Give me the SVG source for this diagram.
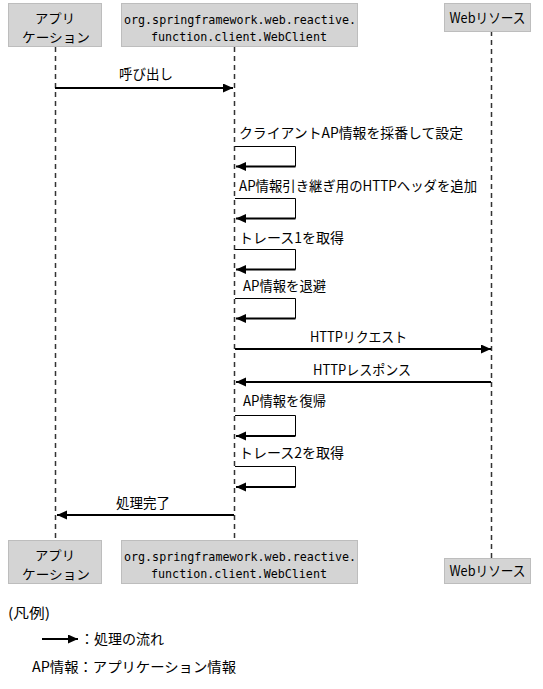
<svg xmlns="http://www.w3.org/2000/svg" width="543" height="689" viewBox="0 0 543 689">
<style>
  .box { fill: #d4d4d4; stroke: #bdbdbd; stroke-width: 1; }
  .t { font-family: "Noto Sans CJK JP", "DejaVu Sans", sans-serif; font-size: 14px; fill: #000; }
  .tb { font-family: "Noto Sans CJK JP", "DejaVu Sans", sans-serif; font-size: 13px; fill: #000; }
  .mono { font-family: "DejaVu Sans Mono", "Liberation Mono", monospace; font-size: 11.6px; fill: #000; }
  .life { stroke: #333; stroke-width: 1.5; stroke-dasharray: 5 4; fill: none; }
  .msg { stroke: #000; stroke-width: 2; fill: none; marker-end: url(#ah); }
  .loop { stroke: #000; stroke-width: 1; fill: none; }
</style>
<defs>
  <marker id="ah" markerUnits="userSpaceOnUse" markerWidth="11" markerHeight="10" refX="10" refY="4.5" orient="auto">
    <path d="M0,0 L10,4.5 L0,9 Z" fill="#000"/>
  </marker>
</defs>
<rect width="543" height="689" fill="#fff"/>

<g id="connectors">
  <line class="life" x1="55.5" y1="47" x2="55.5" y2="540"/>
  <line class="life" x1="234.5" y1="47" x2="234.5" y2="540"/>
  <line class="life" x1="491.5" y1="31" x2="491.5" y2="558"/>

  <line class="msg" x1="55" y1="88" x2="233" y2="88"/>
  <text class="t" x="119" y="79" textLength="54" lengthAdjust="spacingAndGlyphs">呼び出し</text>

  <text class="t" x="239" y="138" textLength="224" lengthAdjust="spacingAndGlyphs">クライアントAP情報を採番して設定</text>
  <polyline class="loop" points="235,146.5 295.5,146.5 295.5,166.5"/>
  <line class="msg" x1="295.5" y1="166.5" x2="236" y2="166.5"/>

  <text class="t" x="239" y="191" textLength="238" lengthAdjust="spacingAndGlyphs">AP情報引き継ぎ用のHTTPヘッダを追加</text>
  <polyline class="loop" points="235,198.5 295.5,198.5 295.5,218.5"/>
  <line class="msg" x1="295.5" y1="218.5" x2="236" y2="218.5"/>

  <text class="t" x="239" y="243" textLength="105" lengthAdjust="spacingAndGlyphs">トレース1を取得</text>
  <polyline class="loop" points="235,249.5 295.5,249.5 295.5,269.5"/>
  <line class="msg" x1="295.5" y1="269.5" x2="236" y2="269.5"/>

  <text class="t" x="243" y="291" textLength="83" lengthAdjust="spacingAndGlyphs">AP情報を退避</text>
  <polyline class="loop" points="235,298.5 295.5,298.5 295.5,318.5"/>
  <line class="msg" x1="295.5" y1="318.5" x2="236" y2="318.5"/>

  <text class="t" x="310" y="342" textLength="97" lengthAdjust="spacingAndGlyphs">HTTPリクエスト</text>
  <line class="msg" x1="235" y1="349" x2="491" y2="349"/>

  <text class="t" x="313" y="375" textLength="98" lengthAdjust="spacingAndGlyphs">HTTPレスポンス</text>
  <line class="msg" x1="491" y1="382" x2="236" y2="382"/>

  <text class="t" x="243" y="406" textLength="83" lengthAdjust="spacingAndGlyphs">AP情報を復帰</text>
  <polyline class="loop" points="235,415.5 295.5,415.5 295.5,436"/>
  <line class="msg" x1="295.5" y1="436" x2="236" y2="436"/>

  <text class="t" x="239" y="458" textLength="105" lengthAdjust="spacingAndGlyphs">トレース2を取得</text>
  <polyline class="loop" points="235,466.5 295.5,466.5 295.5,487"/>
  <line class="msg" x1="295.5" y1="487" x2="236" y2="487"/>

  <text class="t" x="116" y="508" textLength="54" lengthAdjust="spacingAndGlyphs">処理完了</text>
  <line class="msg" x1="234" y1="515" x2="57" y2="515"/>
</g>

<g id="app-top">
  <rect class="box" x="8.5" y="3.5" width="93" height="43"/>
  <text class="tb" x="55" y="23" text-anchor="middle" textLength="40" lengthAdjust="spacingAndGlyphs">アプリ</text>
  <text class="tb" x="56" y="42" text-anchor="middle" textLength="68" lengthAdjust="spacingAndGlyphs">ケーション</text>
</g>
<g id="webclient-top">
  <rect class="box" x="121.5" y="3.5" width="236" height="43"/>
  <text class="mono" x="240" y="24" text-anchor="middle" textLength="232" lengthAdjust="spacingAndGlyphs">org.springframework.web.reactive.</text>
  <text class="mono" x="239" y="41" text-anchor="middle" textLength="176" lengthAdjust="spacingAndGlyphs">function.client.WebClient</text>
</g>
<g id="web-top">
  <rect class="box" x="444.5" y="3.5" width="86" height="28"/>
  <text class="t" x="487.5" y="23" text-anchor="middle" textLength="76" lengthAdjust="spacingAndGlyphs">Webリソース</text>
</g>

<g id="app-bottom">
  <rect class="box" x="8.5" y="540.5" width="93" height="43"/>
  <text class="tb" x="55" y="560" text-anchor="middle" textLength="40" lengthAdjust="spacingAndGlyphs">アプリ</text>
  <text class="tb" x="56" y="579" text-anchor="middle" textLength="68" lengthAdjust="spacingAndGlyphs">ケーション</text>
</g>
<g id="webclient-bottom">
  <rect class="box" x="121.5" y="540.5" width="236" height="43"/>
  <text class="mono" x="240" y="561" text-anchor="middle" textLength="232" lengthAdjust="spacingAndGlyphs">org.springframework.web.reactive.</text>
  <text class="mono" x="239" y="578" text-anchor="middle" textLength="176" lengthAdjust="spacingAndGlyphs">function.client.WebClient</text>
</g>
<g id="web-bottom">
  <rect class="box" x="444.5" y="558.5" width="86" height="25"/>
  <text class="t" x="487.5" y="576" text-anchor="middle" textLength="76" lengthAdjust="spacingAndGlyphs">Webリソース</text>
</g>

<g id="legend">
  <text class="t" x="8" y="618" textLength="42" lengthAdjust="spacingAndGlyphs">(凡例)</text>
  <line class="msg" x1="42" y1="639" x2="78" y2="639"/>
  <text class="t" x="80" y="644" textLength="84" lengthAdjust="spacingAndGlyphs">：処理の流れ</text>
  <text class="t" x="32" y="672" textLength="204" lengthAdjust="spacingAndGlyphs">AP情報：アプリケーション情報</text>
</g>
</svg>
